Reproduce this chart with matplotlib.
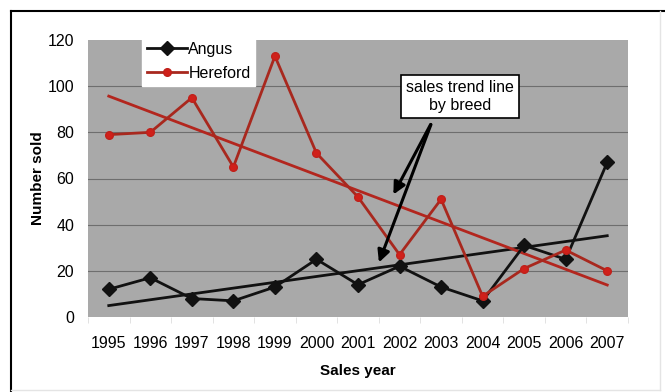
import numpy as np
import matplotlib
matplotlib.use('Agg')
import matplotlib.pyplot as plt
from matplotlib.lines import Line2D

plt.rcParams['font.family'] = ['Liberation Sans', 'DejaVu Sans']

# Data
years = [1995, 1996, 1997, 1998, 1999, 2000, 2001, 2002, 2003, 2004, 2005, 2006, 2007]
angus = [12, 17, 8, 7, 13, 25, 14, 22, 13, 7, 31, 25, 67]
hereford = [79, 80, 95, 65, 113, 71, 52, 27, 51, 9, 21, 29, 20]
y_ticks = [0, 20, 40, 60, 80, 100, 120]

fig = plt.figure(figsize=(6.65, 3.92), dpi=100)
ax = fig.add_axes([88 / 665, 1 - 317 / 392, 540 / 665, 277 / 392])

ax.set_facecolor('#a9a9a9')
ax.set_xlim(1994.5, 2007.5)
ax.set_ylim(0, 120)

# horizontal gridlines like Excel
for v in y_ticks[1:-1]:
    ax.axhline(v, color='#6e6e6e', linewidth=0.8, zorder=1)

# linear trend lines through each breed
x = np.array(years)
for vals, col in [(angus, '#111111'), (hereford, '#b3261e')]:
    k, b = np.polyfit(x, vals, 1)
    ax.plot(x, k * x + b, color=col, linewidth=2, zorder=2)

ax.plot(years, angus, color='#111111', linewidth=2, marker='D',
        markersize=7, markerfacecolor='#111111', zorder=3)
ax.plot(years, hereford, color='#a8281e', linewidth=2, marker='o',
        markersize=5.5, markerfacecolor='#d0201a', markeredgecolor='#c0201a', zorder=4)

for s in ax.spines.values():
    s.set_visible(False)

ax.set_xticks(years)
ax.set_xticks(np.arange(1994.5, 2008, 1), minor=True)
ax.tick_params(axis='x', which='major', length=0, pad=14, labelsize=11.5)
ax.tick_params(axis='x', which='minor', length=4, color='#dddddd', direction='out')
ax.set_yticks(y_ticks)
ax.tick_params(axis='y', length=0, pad=10, labelsize=11.5)

ax.set_xlabel('Sales year', fontsize=11, fontweight='bold', labelpad=9)
ax.set_ylabel('Number sold', fontsize=11, fontweight='bold', labelpad=2)

handles = [
    Line2D([], [], color='#111111', linewidth=2, marker='D', markersize=7),
    Line2D([], [], color='#a8281e', linewidth=2, marker='o', markersize=5.5,
           markerfacecolor='#d0201a', markeredgecolor='#c0201a'),
]
leg = ax.legend(handles, ['Angus', 'Hereford'], loc='upper left',
                bbox_to_anchor=(0.1, 1.01), fontsize=11.5, frameon=True,
                fancybox=False, edgecolor='white', framealpha=1,
                handlelength=2.5, handletextpad=0.1, labelspacing=0.55,
                borderpad=0.3, borderaxespad=0)
leg.set_zorder(6)

# callout box with two arrows
box = dict(boxstyle='square,pad=0.3', facecolor='white', edgecolor='black', linewidth=1.2)
arrow = dict(arrowstyle='-|>', color='black', linewidth=2.2, mutation_scale=18)
ax.annotate('', xy=(2001.82, 52), xytext=(2002.78, 84.5), arrowprops=arrow, zorder=5)
ax.annotate('', xy=(2001.48, 22.5), xytext=(2002.78, 84.5), arrowprops=arrow, zorder=5)
ax.text(2003.46, 95.5, 'sales trend line\nby breed', ha='center', va='center',
        fontsize=11.5, bbox=box, zorder=6, linespacing=1.25)

# outer frame of the chart area
fig.add_artist(Line2D([11 / 665, 11 / 665], [1 - 11 / 392, 0], color='black', linewidth=1.5))
fig.add_artist(Line2D([11 / 665, 1], [1 - 11 / 392, 1 - 11 / 392], color='black', linewidth=1.5))
fig.add_artist(Line2D([660 / 665, 660 / 665], [1 - 11 / 392, 2 / 392], color='#e4e4e4', linewidth=1))
fig.add_artist(Line2D([11 / 665, 660 / 665], [2 / 392, 2 / 392], color='#e4e4e4', linewidth=1))

fig.savefig('out.png', dpi=100)
